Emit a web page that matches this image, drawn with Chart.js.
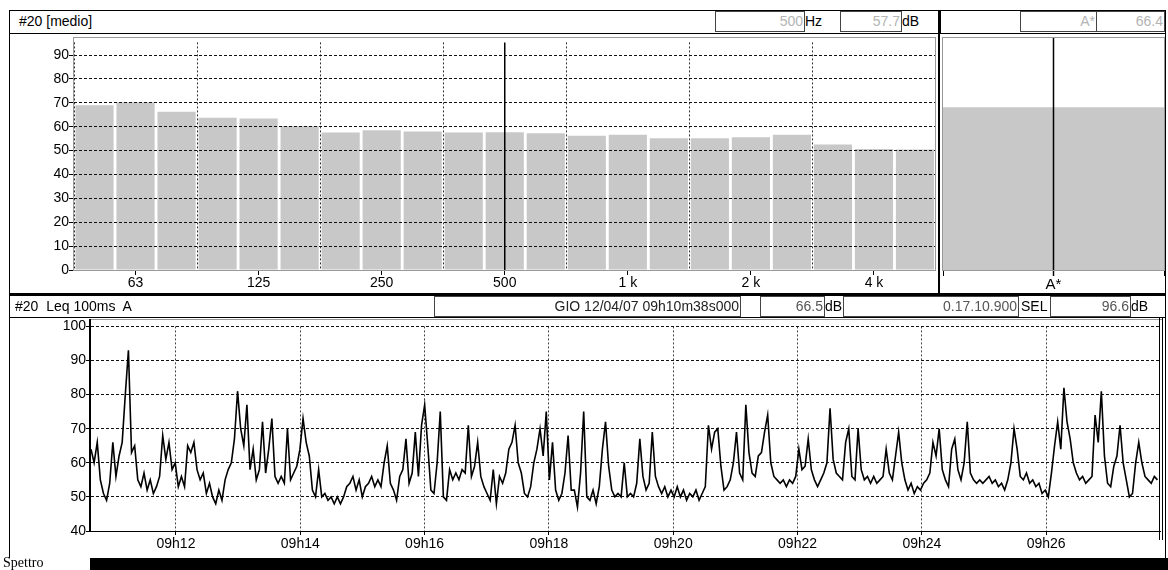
<!DOCTYPE html>
<html>
<head>
<meta charset="utf-8">
<script src="https://cdn.jsdelivr.net/npm/chart.js@4.4.1/dist/chart.umd.min.js"></script>
<style>
  body { margin:0; width:1168px; height:570px; position:relative; overflow:hidden; background:#fff;
         font-family:'Liberation Sans', Arial, sans-serif; font-size:14px; color:#000; }
  .box { position:absolute; box-sizing:border-box; border:1px solid #000; }
  .ln  { position:absolute; background:#000; }
  .val { position:absolute; box-sizing:border-box; border:1px solid #444; height:21px; line-height:19px;
         text-align:right; padding-right:1px; color:#b4b4b4; white-space:pre; overflow:hidden; }
  .txt { position:absolute; line-height:21px; white-space:pre; }
  canvas { position:absolute; }
</style>
</head>
<body>

<canvas id="spectrumChart" width="927" height="259" style="left:10px;top:34px"></canvas>
<canvas id="totalChart" width="226" height="259" style="left:940px;top:34px"></canvas>
<canvas id="leqChart" width="1154" height="240" style="left:10px;top:318px"></canvas>

<!-- cadre haut gauche -->
<div class="box" style="left:9px;top:10px;width:930px;height:24px"></div>
<div class="txt" style="left:19px;top:11px">#20 [medio]</div>
<div class="val" id="cursorBandBox" style="left:715px;top:11px;width:90px"></div>
<div class="txt" style="left:805px;top:11px">Hz</div>
<div class="val" id="cursorLevelBox" style="left:840px;top:11px;width:62px"></div>
<div class="txt" style="left:902px;top:11px">dB</div>
<div class="ln" style="left:9px;top:10px;width:1px;height:285px"></div>
<div class="box" style="left:73px;top:37px;width:863px;height:234px;border-color:#999"></div>

<!-- cadre haut droit -->
<div class="ln" style="left:938px;top:10px;width:2px;height:285px"></div>
<div class="box" style="left:940px;top:10px;width:226px;height:24px"></div>
<div class="val" id="totalLabelBox" style="left:1020px;top:11px;width:77px"></div>
<div class="val" id="totalLevelBox" style="left:1096px;top:11px;width:69px"></div>
<div class="box" style="left:942px;top:37px;width:223px;height:234px;border-color:#999"></div>
<div class="ln" style="left:1165px;top:10px;width:1px;height:548px"></div>

<!-- séparation -->
<div class="ln" style="left:9px;top:293px;width:1157px;height:2px"></div>

<!-- cadre bas -->
<div class="box" style="left:9px;top:295px;width:1157px;height:23px"></div>
<div class="txt" style="left:15px;top:296px">#20  Leq 100ms  A</div>
<div class="val" style="left:434px;top:296px;width:307px;color:#222">GIO 12/04/07 09h10m38s000</div>
<div class="val" id="leqBox" style="left:760px;top:296px;width:65px;color:#555"></div>
<div class="txt" style="left:825px;top:296px">dB</div>
<div class="val" id="durationBox" style="left:843px;top:296px;width:176px;color:#555"></div>
<div class="txt" style="left:1021px;top:296px">SEL</div>
<div class="val" id="selBox" style="left:1050px;top:296px;width:81px;color:#555"></div>
<div class="txt" style="left:1131px;top:296px">dB</div>
<div class="ln" style="left:9px;top:295px;width:1px;height:263px"></div>
<div class="ln" style="left:90px;top:319px;width:1072px;height:1px;background:#999"></div>
<div class="ln" style="left:89px;top:319px;width:2px;height:213px"></div>
<div class="ln" style="left:89px;top:531px;width:1072px;height:1px"></div>
<div class="ln" style="left:1159px;top:318px;width:1px;height:222px"></div>
<div class="ln" style="left:1162px;top:318px;width:1px;height:222px"></div>

<div class="txt" style="left:3px;top:552px;font-family:'Liberation Serif',serif;font-size:14px">Spettro</div>
<div class="ln" style="left:90px;top:558px;width:1078px;height:12px"></div>

<script>
// Spettro 1/3 ottava
const bands = ['50','63','80','100','125','160','200','250','315','400','500','630','800',
               '1 k','1.25 k','1.6 k','2 k','2.5 k','3.15 k','4 k','5 k'];
const bandLevels = [69.0, 70.2, 66.3, 63.8, 63.4, 60.3, 57.6, 58.5, 58.0, 57.6, 57.7,
                    57.3, 56.2, 56.6, 55.2, 55.2, 55.6, 56.6, 52.5, 50.7, 50.5];
const shownBands = ['63','125','250','500','1 k','2 k','4 k'];
const levelTicks = [0, 10, 20, 30, 40, 50, 60, 70, 80, 90];
const levelMax = 95.3;
const cursorBand = '500';

// Totale ponderato
const totalLabels = ['A*'];
const totalLevels = [66.4];

// Leq 100ms A nel tempo (secondi dopo le 09:00:00)
const leqStart = 638;
const leqDuration = 1030.9;
const leqStep = 3.01;
const leqValues = [
  64,60,66,55,51,49,54,66,56,62, 66,80,93,63,65,55,53,57,52,55,
  51,53,56,68,61,66,58,60,53,56, 53,65,63,66,58,55,57,51,54,50,
  48,52,49,55,58,60,67,81,70,65, 77,58,64,55,58,72,57,64,
  73,56,54,56,54,70,55,57,59,64, 73,66,62,52,50,58,50,51,49,50,
  48,50,48,50,53,54,56,52,55,50, 53,54,56,53,55,53,60,65,54,52,
  49,56,58,67,54,57,69,56,71,77, 65,52,51,60,75,50,49,58,
  55,57,55,58,57,71,56,59,66,56, 53,51,49,58,48,56,54,57,64,66,
  71,60,57,51,50,53,60,64,70,62, 75,55,66,52,49,51,57,68,52,52,
  47,57,75,50,49,52,48,53,64,72, 59,52,50,51,50,60,50,
  51,50,54,67,56,52,54,69,56,53, 51,53,50,52,50,53,50,52,49,51,
  50,52,49,51,53,71,64,69,70,59, 52,53,55,60,69,57,55,77,63,57,
  56,62,63,69,74,60,56,55,54,55, 53,55,54,56,64,58,59,67,
  58,55,53,55,57,60,76,61,57,56, 55,66,70,56,55,70,58,55,56,54,
  56,54,55,56,64,57,55,62,69,60, 55,52,54,51,53,52,54,55,57,66,
  62,70,58,55,53,64,67,58,55,60, 72,57,55,54,55,54,55,
  56,54,55,53,54,52,55,60,70,64, 56,55,57,54,55,53,54,51,52,50,
  57,65,72,64,82,72,67,60,57,55, 56,54,55,56,74,66,81,62,54,53,
  59,62,71,60,55,50,51,60,66,60, 56,55,54,56,55
];
const leqTicks = [720, 840, 960, 1080, 1200, 1320, 1440, 1560];
const leqTickLabels = ['09h12','09h14','09h16','09h18','09h20','09h22','09h24','09h26'];
const leqAxisTicks = [40, 50, 60, 70, 80, 90, 100];
const leqTotal = 66.5;
const selTotal = 96.6;
const durationText = '0.17.10.900';

Chart.defaults.font.family = "'Liberation Sans', Arial, sans-serif";
Chart.defaults.color = '#000';
Chart.defaults.animation = false;

// valori di intestazione
document.getElementById('cursorBandBox').textContent = cursorBand;
document.getElementById('cursorLevelBox').textContent = bandLevels[bands.indexOf(cursorBand)].toFixed(1);
document.getElementById('totalLabelBox').textContent = totalLabels[0];
document.getElementById('totalLevelBox').textContent = totalLevels[0].toFixed(1);
document.getElementById('leqBox').textContent = leqTotal.toFixed(1);
document.getElementById('durationBox').textContent = durationText;
document.getElementById('selBox').textContent = selTotal.toFixed(1);

/**
 * Linea cursore verticale su una categoria
 */
const cursorLine = {
    id: 'cursorLine',
    afterDraw(chart, args, opts) {
        const x = chart.scales.x.getPixelForValue(opts.index);
        const { top, bottom } = chart.chartArea;
        const ctx = chart.ctx;
        ctx.save();
        ctx.strokeStyle = '#000';
        ctx.lineWidth = 1.5;
        ctx.beginPath();
        ctx.moveTo(x, top);
        ctx.lineTo(x, bottom + (opts.extend || 0));
        ctx.stroke();
        ctx.restore();
    }
};

const keepTicks = (list) => (scale) => {
    scale.ticks = list.map(v => ({ value: v }));
};
const keepBandTicks = (scale) => {
    scale.ticks = shownBands.map(b => ({ value: bands.indexOf(b) }));
};

// spettro
new Chart(document.getElementById('spectrumChart'), {
    type: 'bar',
    data: {
        labels: bands,
        datasets: [{
            data: bandLevels,
            backgroundColor: '#c8c8c8',
            barPercentage: 0.93,
            categoryPercentage: 1
        }]
    },
    plugins: [cursorLine],
    options: {
        responsive: false,
        devicePixelRatio: 1,
        layout: { padding: { top: 3, right: 1.5, left: 0, bottom: 0 } },
        plugins: {
            legend: { display: false },
            tooltip: { enabled: false },
            cursorLine: { index: bands.indexOf(cursorBand), extend: 0 }
        },
        scales: {
            x: {
                type: 'category',
                offset: true,
                afterBuildTicks: keepBandTicks,
                afterFit: (s) => { s.height = 23; },
                grid: { offset: false, drawOnChartArea: false, tickLength: 5, tickColor: '#000', tickBorderDash: [] },
                border: { display: false },
                ticks: { autoSkip: false, maxRotation: 0, padding: 0, font: { size: 14 } }
            },
            xg: {
                type: 'category',
                position: 'bottom',
                labels: bands,
                offset: true,
                afterBuildTicks: keepBandTicks,
                afterFit: (s) => { s.height = 0; },
                grid: { offset: true, drawTicks: false, color: '#333', borderDash: [2, 2], z: 1 },
                border: { display: false, dash: [2, 2] },
                ticks: { display: false, autoSkip: false }
            },
            y: {
                min: 0,
                max: levelMax,
                afterBuildTicks: keepTicks(levelTicks),
                afterFit: (s) => { s.width = 64; },
                grid: { color: '#111', borderDash: [3, 2], tickLength: 5, tickColor: '#000', tickBorderDash: [], z: 1 },
                border: { display: false, dash: [3, 2] },
                ticks: { padding: 0, font: { size: 14 } }
            }
        }
    }
});

// totale A*
new Chart(document.getElementById('totalChart'), {
    type: 'bar',
    data: {
        labels: totalLabels,
        datasets: [{
            data: totalLevels,
            backgroundColor: '#c8c8c8',
            barPercentage: 1,
            categoryPercentage: 1
        }]
    },
    plugins: [cursorLine],
    options: {
        responsive: false,
        devicePixelRatio: 1,
        layout: { padding: { top: 3, right: 2, left: 3, bottom: 0 } },
        plugins: {
            legend: { display: false },
            tooltip: { enabled: false },
            cursorLine: { index: 0, extend: 6 }
        },
        scales: {
            x: {
                afterFit: (s) => { s.height = 23; },
                grid: { drawOnChartArea: false, drawTicks: true, tickLength: 6, tickColor: '#000' },
                border: { display: false },
                ticks: { padding: 0, font: { size: 15 } }
            },
            y: { display: false, min: 0, max: levelMax }
        }
    }
});

// Leq nel tempo
new Chart(document.getElementById('leqChart'), {
    type: 'line',
    data: {
        datasets: [{
            data: leqValues.map((v, i) => ({ x: leqStart + i * leqStep, y: v })),
            borderColor: '#000',
            borderWidth: 1.6,
            pointRadius: 0,
            tension: 0,
            fill: false
        }]
    },
    options: {
        responsive: false,
        devicePixelRatio: 1,
        layout: { padding: { top: 2, right: 5, left: 0, bottom: 0 } },
        plugins: { legend: { display: false }, tooltip: { enabled: false } },
        scales: {
            x: {
                type: 'linear',
                min: leqStart,
                max: leqStart + leqDuration,
                afterBuildTicks: keepTicks(leqTicks),
                afterFit: (s) => { s.height = 27; },
                grid: { color: '#444', borderDash: [2, 2], tickLength: 4, tickColor: '#000', tickBorderDash: [] },
                border: { display: false, dash: [2, 2] },
                ticks: {
                    maxRotation: 0,
                    autoSkip: false,
                    padding: 1,
                    font: { size: 14 },
                    callback: (value) => leqTickLabels[leqTicks.indexOf(value)]
                }
            },
            y: {
                min: 40,
                max: 100,
                afterBuildTicks: keepTicks(leqAxisTicks),
                afterFit: (s) => { s.width = 81; },
                grid: { color: '#111', borderDash: [3, 2], tickLength: 5, tickColor: '#000', tickBorderDash: [] },
                border: { display: false, dash: [3, 2] },
                ticks: { padding: 0, font: { size: 14 } }
            }
        }
    }
});
</script>
</body>
</html>
